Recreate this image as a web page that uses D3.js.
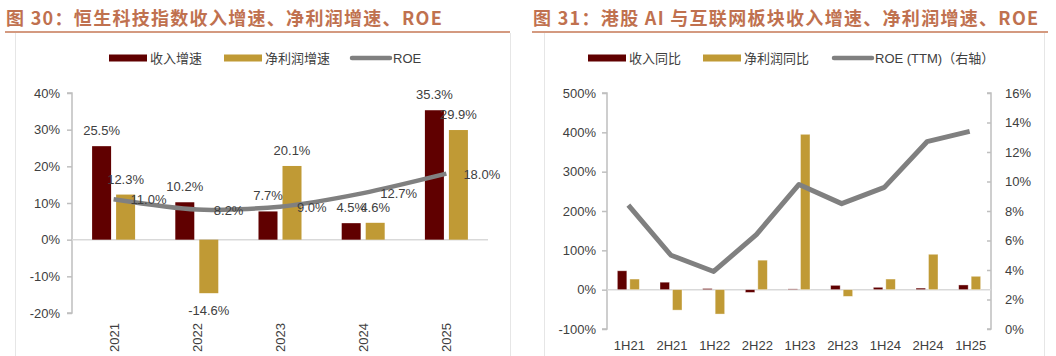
<!DOCTYPE html>
<html><head><meta charset="utf-8">
<script src="https://cdn.jsdelivr.net/npm/d3@7/dist/d3.min.js"></script>
<style>
body{margin:0;background:#fff;}
svg{display:block;font-family:"Liberation Sans",Arial,sans-serif;}
</style></head>
<body><svg id="c" width="1056" height="356"></svg>
<script>
// ---- Data: chart 30 ----
const years = ["2021","2022","2023","2024","2025"];
const revGrowthA = [25.5, 10.2, 7.7, 4.5, 35.3];
const npGrowthA = [12.3, -14.6, 20.1, 4.6, 29.9];
const roeA = [11.0, 8.2, 9.0, 12.7, 18.0];
const yTicksA = [-20, -10, 0, 10, 20, 30, 40];
// ---- Data: chart 31 ----
const halves = ["1H21","2H21","1H22","2H22","1H23","2H23","1H24","2H24","1H25"];
const revYoYB = [48, 19, 3, -7, 2, 11, 6, 4, 12];
const npYoYB = [27, -52, -62, 75, 395, -17, 27, 90, 34];
const roeB = [8.4, 5.0, 3.9, 6.4, 9.8, 8.5, 9.6, 12.7, 13.4];
const yTicksBL = [-100, 0, 100, 200, 300, 400, 500];
const yTicksBR = [0, 2, 4, 6, 8, 10, 12, 14, 16];

const C_REV = "#600000", C_NP = "#c09a35", C_ROE = "#808080";
const TITLE = "#c0714f", TXT = "#404040";
const svg = d3.select("#c");

// Titles and frames
function header(x0, x1, title, boxL, boxR){
  svg.append("text").attr("x", x0+1).attr("y", 25).attr("fill", TITLE)
    .attr("font-family", "'Noto Sans CJK SC',sans-serif").attr("font-weight", "bold")
    .attr("font-size", 18).attr("letter-spacing", 1.3).text(title);
  svg.append("line").attr("x1", x0).attr("x2", x1).attr("y1", 32).attr("y2", 32)
    .attr("stroke", "#d49a80").attr("stroke-width", 2);
  [boxL, boxR].forEach(x => svg.append("line").attr("x1", x).attr("x2", x)
    .attr("y1", 33).attr("y2", 356).attr("stroke", "#e6e6e6").attr("stroke-width", 1));
}
header(5, 510, "图 30：恒生科技指数收入增速、净利润增速、ROE", 15.5, 510.5);
header(532, 1048, "图 31：港股 AI 与互联网板块收入增速、净利润增速、ROE", 544.5, 1044.5);

function legend(items, y){
  items.forEach(it => {
    if (it.line) {
      svg.append("line").attr("x1", it.x).attr("x2", it.x+38).attr("y1", y).attr("y2", y)
        .attr("stroke", it.c).attr("stroke-width", 4.5).attr("stroke-linecap","round");
    } else {
      svg.append("rect").attr("x", it.x).attr("y", y-3.5).attr("width", 38).attr("height", 7).attr("fill", it.c);
    }
    svg.append("text").attr("x", it.x+41).attr("y", y+4.5).attr("font-size", 13).attr("fill", TXT)
      .attr("font-family", "'Liberation Sans','Noto Sans CJK SC',sans-serif").text(it.t);
  });
}
legend([{x:109,c:C_REV,t:"收入增速"},{x:224,c:C_NP,t:"净利润增速"},{x:352,c:C_ROE,t:"ROE",line:true}], 58);
legend([{x:588,c:C_REV,t:"收入同比"},{x:703,c:C_NP,t:"净利润同比"},{x:834,c:C_ROE,t:"ROE (TTM)（右轴）",line:true}], 58);

const fmt = v => v.toFixed(1) + "%";

// ---------- Chart 30 ----------
(function(){
  const x = d3.scaleBand().domain(years).range([72, 488]);
  const y = d3.scaleLinear().domain([-20, 40]).range([313, 93]);
  const g = svg.append("g");
  const ax = g.append("g").attr("transform", "translate(72,0)")
    .call(d3.axisLeft(y).tickValues(yTicksA).tickFormat(d => d + "%").tickSize(5).tickPadding(7));
  ax.select(".domain").attr("stroke", "#bfbfbf").attr("stroke-width", 1.5).attr("d", `M-5,${y(40)}H0V${y(-20)}H-5`);
  ax.selectAll(".tick line").attr("stroke", "#bfbfbf").attr("stroke-width", 1.5);
  ax.selectAll("text").attr("font-size", 13).attr("fill", TXT).attr("font-family", "'Liberation Sans',Arial");
  g.append("line").attr("x1", 72).attr("x2", 488).attr("y1", y(0)).attr("y2", y(0)).attr("stroke", "#d9d9d9").attr("stroke-width", 1.5);
  const bw = 19;
  const c = d => x(d) + x.bandwidth()/2;
  g.selectAll(".r").data(years).join("rect")
    .attr("x", d => c(d) - 21.5).attr("width", bw)
    .attr("y", (d,i) => y(Math.max(0, revGrowthA[i]))).attr("height", (d,i) => Math.abs(y(revGrowthA[i]) - y(0)))
    .attr("fill", C_REV);
  g.selectAll(".n").data(years).join("rect")
    .attr("x", d => c(d) + 2.5).attr("width", bw)
    .attr("y", (d,i) => y(Math.max(0, npGrowthA[i]))).attr("height", (d,i) => Math.abs(y(npGrowthA[i]) - y(0)))
    .attr("fill", C_NP);
  const line = d3.line().x((d,i) => c(years[i])).y(d => y(d)).curve(d3.curveCardinal.tension(0.2));
  g.append("path").datum(roeA).attr("d", line).attr("fill", "none").attr("stroke", C_ROE).attr("stroke-width", 4.5);
  const lab = (xx, yy, t, anchor) => g.append("text").attr("x", xx).attr("y", yy).attr("font-size", 13)
    .attr("fill", TXT).attr("text-anchor", anchor || "middle").text(t);
  years.forEach((d,i) => {
    const v = revGrowthA[i];
    lab(c(d) - 12, v >= 0 ? y(v) - 11 : y(v) + 22, fmt(v));
    const w = npGrowthA[i];
    lab(c(d) + 12, w >= 0 ? y(w) - 11 : y(w) + 22, fmt(w));
    lab(c(d) + 17, y(roeA[i]) + 5, fmt(roeA[i]), "start");
    g.append("text").attr("transform", `translate(${c(d)+5},323) rotate(-90)`).attr("text-anchor", "end")
      .attr("font-size", 13).attr("fill", TXT).text(d);
  });
})();

// ---------- Chart 31 ----------
(function(){
  const x = d3.scaleBand().domain(halves).range([607, 991]);
  const yL = d3.scaleLinear().domain([-100, 500]).range([329, 93]);
  const yR = d3.scaleLinear().domain([0, 16]).range([329, 93]);
  const g = svg.append("g");
  const axL = g.append("g").attr("transform", "translate(607,0)")
    .call(d3.axisLeft(yL).tickValues(yTicksBL).tickFormat(d => d + "%").tickSize(5).tickPadding(6));
  axL.select(".domain").attr("stroke", "#bfbfbf").attr("stroke-width", 1.5).attr("d", `M-5,${yL(500)}H0V${yL(-100)}H-5`);
  axL.selectAll(".tick line").attr("stroke", "#bfbfbf").attr("stroke-width", 1.5);
  axL.selectAll("text").attr("font-size", 13).attr("fill", TXT);
  const axR = g.append("g").attr("transform", "translate(991,0)")
    .call(d3.axisRight(yR).tickValues(yTicksBR).tickFormat(d => d + "%").tickSize(-4).tickPadding(14));
  axR.select(".domain").attr("stroke", "#bfbfbf").attr("stroke-width", 1.5).attr("d", `M-4,${yR(16)}H0V${yR(0)}H-4`);
  axR.selectAll(".tick line").attr("stroke", "#bfbfbf").attr("stroke-width", 1.5);
  axR.selectAll("text").attr("font-size", 13).attr("fill", TXT);
  g.append("line").attr("x1", 607).attr("x2", 991).attr("y1", yL(0)).attr("y2", yL(0)).attr("stroke", "#d9d9d9").attr("stroke-width", 1.5);
  const c = d => x(d) + x.bandwidth()/2;
  const bw = 9.5;
  g.selectAll(".r").data(halves).join("rect")
    .attr("x", d => c(d) - 11).attr("width", bw)
    .attr("y", (d,i) => yL(Math.max(0, revYoYB[i]))).attr("height", (d,i) => Math.abs(yL(revYoYB[i]) - yL(0)))
    .attr("fill", C_REV).attr("stroke", "#fff").attr("stroke-opacity", 0.5).attr("stroke-width", 0.75);
  g.selectAll(".n").data(halves).join("rect")
    .attr("x", d => c(d) + 1.5).attr("width", bw)
    .attr("y", (d,i) => yL(Math.max(0, npYoYB[i]))).attr("height", (d,i) => Math.abs(yL(npYoYB[i]) - yL(0)))
    .attr("fill", C_NP).attr("stroke", "#fff").attr("stroke-opacity", 0.5).attr("stroke-width", 0.75);
  const line = d3.line().x((d,i) => c(halves[i])).y(d => yR(d));
  g.append("path").datum(roeB).attr("d", line).attr("fill", "none").attr("stroke", C_ROE)
    .attr("stroke-width", 5).attr("stroke-linejoin", "round");
  halves.forEach(d => g.append("text").attr("x", c(d)+1).attr("y", 350).attr("text-anchor", "middle")
    .attr("font-size", 13).attr("fill", TXT).text(d));
})();
</script></body></html>
